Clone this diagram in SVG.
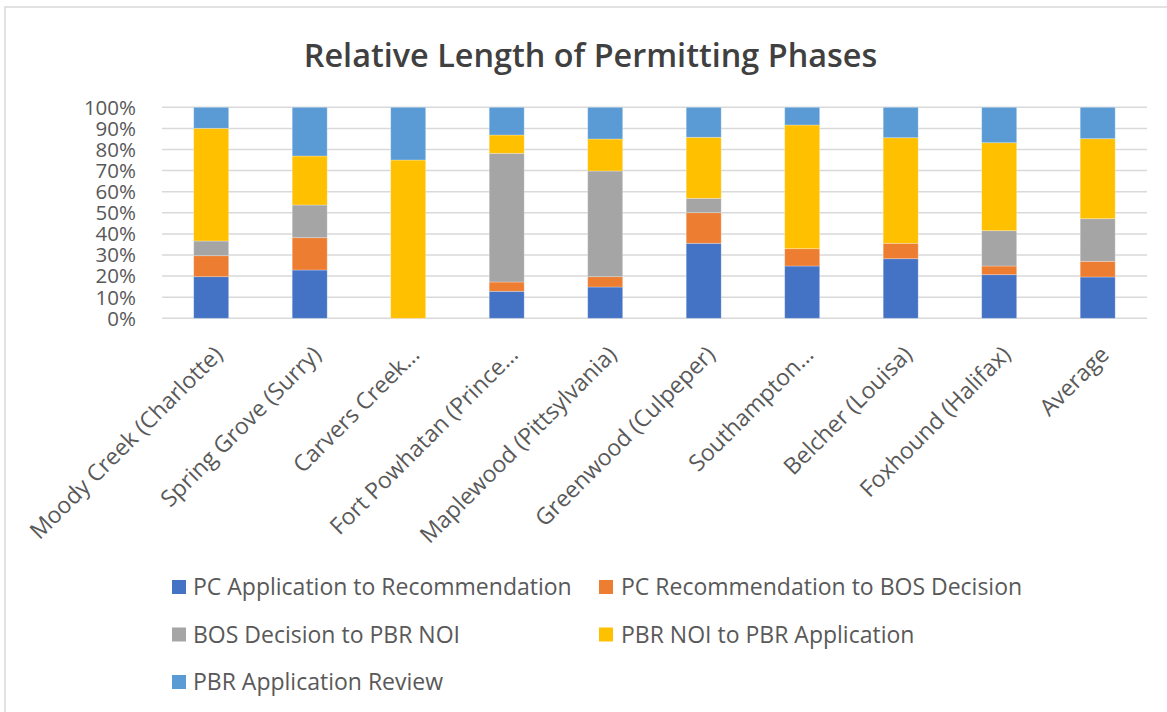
<svg xmlns="http://www.w3.org/2000/svg" width="1167" height="712" viewBox="0 0 1167 712">
<style>
.t{font-family:"Open Sans","Noto Sans","Liberation Sans",sans-serif;fill:#595959}
.ax{font-size:20.5px;text-anchor:end}
.xl{font-size:23px;text-anchor:end}
.lg{font-size:23px}
.title{font-family:"Open Sans","Noto Sans","Liberation Sans",sans-serif;font-size:32.4px;font-weight:600;fill:#404040;text-anchor:middle}
.g{stroke:#d9d9d9;stroke-width:1.5}
.s1{fill:#4472c4}.s2{fill:#ed7d31}.s3{fill:#a5a5a5}.s4{fill:#ffc000}.s5{fill:#5b9bd5}
.bar rect{stroke:#ffffff;stroke-opacity:0.35;stroke-width:0.8}
</style>
<rect x="0" y="0" width="1167" height="712" fill="#ffffff"/>
<rect x="5" y="7" width="1170" height="720" fill="#ffffff" stroke="#d9d9d9" stroke-width="1.5"/>
<text class="title" x="590.5" y="67">Relative Length of Permitting Phases</text>
<g id="gridlines">
<line class="g" x1="162" y1="107.3" x2="1147" y2="107.3"/>
<line class="g" x1="162" y1="128.4" x2="1147" y2="128.4"/>
<line class="g" x1="162" y1="149.5" x2="1147" y2="149.5"/>
<line class="g" x1="162" y1="170.6" x2="1147" y2="170.6"/>
<line class="g" x1="162" y1="191.7" x2="1147" y2="191.7"/>
<line class="g" x1="162" y1="212.8" x2="1147" y2="212.8"/>
<line class="g" x1="162" y1="233.9" x2="1147" y2="233.9"/>
<line class="g" x1="162" y1="255" x2="1147" y2="255"/>
<line class="g" x1="162" y1="276.1" x2="1147" y2="276.1"/>
<line class="g" x1="162" y1="297.2" x2="1147" y2="297.2"/>
<line class="g" x1="162" y1="318.3" x2="1147" y2="318.3"/>
</g>
<g id="y-axis" class="t ax">
<text x="136" y="114.6">100%</text>
<text x="136" y="135.7">90%</text>
<text x="136" y="156.8">80%</text>
<text x="136" y="177.9">70%</text>
<text x="136" y="199">60%</text>
<text x="136" y="220.1">50%</text>
<text x="136" y="241.2">40%</text>
<text x="136" y="262.3">30%</text>
<text x="136" y="283.4">20%</text>
<text x="136" y="304.5">10%</text>
<text x="136" y="325.6">0%</text>
</g>
<g id="bar-moody" class="bar">
<rect class="s1" x="193.7" y="276.7" width="35" height="41.6"/>
<rect class="s2" x="193.7" y="255.7" width="35" height="21"/>
<rect class="s3" x="193.7" y="241" width="35" height="14.7"/>
<rect class="s4" x="193.7" y="128.3" width="35" height="112.7"/>
<rect class="s5" x="193.7" y="107.3" width="35" height="21"/>
</g>
<g id="bar-spring" class="bar">
<rect class="s1" x="292.2" y="270" width="35" height="48.3"/>
<rect class="s2" x="292.2" y="237.7" width="35" height="32.3"/>
<rect class="s3" x="292.2" y="205" width="35" height="32.7"/>
<rect class="s4" x="292.2" y="156" width="35" height="49"/>
<rect class="s5" x="292.2" y="107.3" width="35" height="48.7"/>
</g>
<g id="bar-carvers" class="bar">
<rect class="s4" x="390.7" y="160" width="35" height="158.3"/>
<rect class="s5" x="390.7" y="107.3" width="35" height="52.7"/>
</g>
<g id="bar-fortpowhatan" class="bar">
<rect class="s1" x="489.2" y="291.3" width="35" height="27"/>
<rect class="s2" x="489.2" y="282" width="35" height="9.3"/>
<rect class="s3" x="489.2" y="153.3" width="35" height="128.7"/>
<rect class="s4" x="489.2" y="135" width="35" height="18.3"/>
<rect class="s5" x="489.2" y="107.3" width="35" height="27.7"/>
</g>
<g id="bar-maplewood" class="bar">
<rect class="s1" x="587.7" y="287" width="35" height="31.3"/>
<rect class="s2" x="587.7" y="276.7" width="35" height="10.3"/>
<rect class="s3" x="587.7" y="171" width="35" height="105.7"/>
<rect class="s4" x="587.7" y="139" width="35" height="32"/>
<rect class="s5" x="587.7" y="107.3" width="35" height="31.7"/>
</g>
<g id="bar-greenwood" class="bar">
<rect class="s1" x="686.2" y="243.3" width="35" height="75"/>
<rect class="s2" x="686.2" y="212.7" width="35" height="30.6"/>
<rect class="s3" x="686.2" y="198.3" width="35" height="14.4"/>
<rect class="s4" x="686.2" y="137.3" width="35" height="61"/>
<rect class="s5" x="686.2" y="107.3" width="35" height="30"/>
</g>
<g id="bar-southampton" class="bar">
<rect class="s1" x="784.7" y="266" width="35" height="52.3"/>
<rect class="s2" x="784.7" y="248.7" width="35" height="17.3"/>
<rect class="s4" x="784.7" y="125" width="35" height="123.7"/>
<rect class="s5" x="784.7" y="107.3" width="35" height="17.7"/>
</g>
<g id="bar-belcher" class="bar">
<rect class="s1" x="883.2" y="258.7" width="35" height="59.6"/>
<rect class="s2" x="883.2" y="243.3" width="35" height="15.4"/>
<rect class="s4" x="883.2" y="137.7" width="35" height="105.6"/>
<rect class="s5" x="883.2" y="107.3" width="35" height="30.4"/>
</g>
<g id="bar-foxhound" class="bar">
<rect class="s1" x="981.7" y="274.7" width="35" height="43.6"/>
<rect class="s2" x="981.7" y="266" width="35" height="8.7"/>
<rect class="s3" x="981.7" y="230.7" width="35" height="35.3"/>
<rect class="s4" x="981.7" y="142.7" width="35" height="88"/>
<rect class="s5" x="981.7" y="107.3" width="35" height="35.4"/>
</g>
<g id="bar-average" class="bar">
<rect class="s1" x="1080.2" y="277" width="35" height="41.3"/>
<rect class="s2" x="1080.2" y="261.3" width="35" height="15.7"/>
<rect class="s3" x="1080.2" y="218.7" width="35" height="42.6"/>
<rect class="s4" x="1080.2" y="138.7" width="35" height="80"/>
<rect class="s5" x="1080.2" y="107.3" width="35" height="31.4"/>
</g>
<g id="x-axis" class="t xl">
<text transform="translate(224,356) rotate(-45)">Moody Creek (Charlotte)</text>
<text transform="translate(322.5,356) rotate(-45)">Spring Grove (Surry)</text>
<text transform="translate(421,356) rotate(-45)">Carvers Creek…</text>
<text transform="translate(519.5,356) rotate(-45)">Fort Powhatan (Prince…</text>
<text transform="translate(618,356) rotate(-45)">Maplewood (Pittsylvania)</text>
<text transform="translate(716.5,356) rotate(-45)">Greenwood  (Culpeper)</text>
<text transform="translate(815,356) rotate(-45)">Southampton…</text>
<text transform="translate(913.5,356) rotate(-45)">Belcher (Louisa)</text>
<text transform="translate(1012,356) rotate(-45)">Foxhound (Halifax)</text>
<text transform="translate(1110.5,356) rotate(-45)">Average</text>
</g>
<g id="legend" class="t lg">
<rect class="s1" x="172" y="580" width="14" height="14"/>
<text x="193" y="595">PC Application to Recommendation</text>
<rect class="s2" x="599" y="580" width="14" height="14"/>
<text x="621" y="595">PC Recommendation to BOS Decision</text>
<rect class="s3" x="172" y="627.5" width="14" height="14"/>
<text x="193" y="642.5">BOS Decision to PBR NOI</text>
<rect class="s4" x="599" y="627.5" width="14" height="14"/>
<text x="621" y="642.5">PBR NOI to PBR Application</text>
<rect class="s5" x="172" y="675" width="14" height="14"/>
<text x="193" y="690">PBR Application Review</text>
</g>
</svg>
